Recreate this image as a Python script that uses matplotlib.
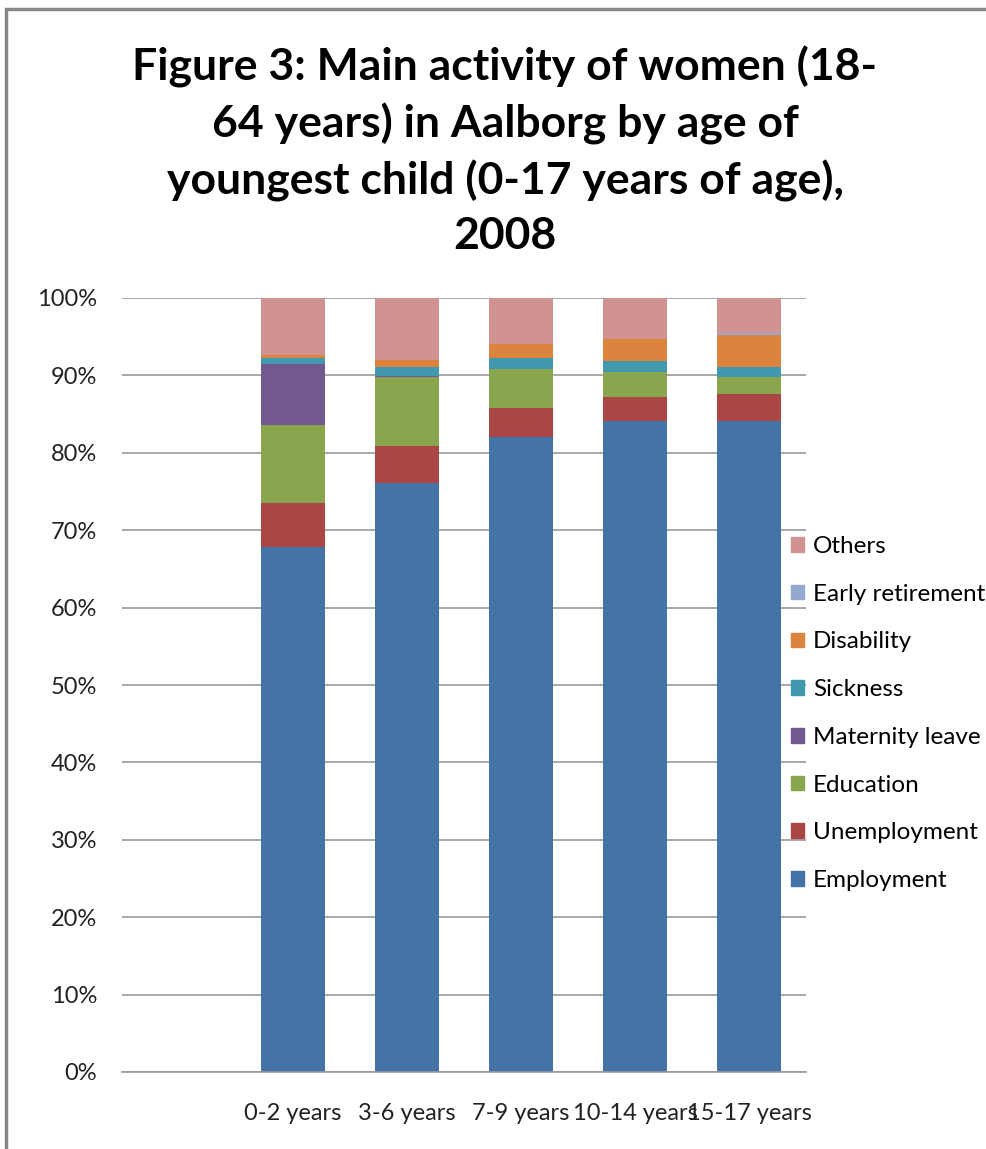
import matplotlib
matplotlib.use("Agg")
import matplotlib.pyplot as plt
from matplotlib.patches import Rectangle, Patch
from matplotlib.ticker import FuncFormatter, MultipleLocator

categories = ["", "0-2 years", "3-6 years", "7-9 years", "10-14 years", "15-17 years"]
series_names = ["Employment", "Unemployment", "Education", "Maternity leave",
                "Sickness", "Disability", "Early retirement", "Others"]
employment      = [0, 67.8, 76.05, 82.0, 84.15, 84.15]
unemployment    = [0, 5.75, 4.85, 3.8, 3.05, 3.45]
education       = [0, 10.05, 8.85, 5.0, 3.25, 2.2]
maternity_leave = [0, 7.9, 0.2, 0.0, 0.0, 0.0]
sickness        = [0, 0.8, 1.13, 1.5, 1.45, 1.3]
disability      = [0, 0.3, 0.85, 1.8, 2.85, 4.15]
early_retire    = [0, 0.0, 0.0, 0.0, 0.0, 0.2]
others          = [0, 7.4, 8.07, 5.9, 5.25, 4.6]
values = [employment, unemployment, education, maternity_leave,
          sickness, disability, early_retire, others]
colors = ["#4572A7", "#AA4643", "#89A54E", "#71588F",
          "#4198AF", "#DB843D", "#93A9CF", "#D19392"]

plt.rcParams['font.family'] = ['Lato', 'DejaVu Sans']

W, H = 987, 1149
fig = plt.figure(figsize=(W / 100, H / 100), dpi=100)
fig.patches.append(Rectangle((6 / W, -0.1), 1.2, 1 - 9 / H + 0.1, transform=fig.transFigure,
                             fill=False, edgecolor="#888888", linewidth=2.5))

ax = fig.add_axes([122 / W, (H - 1072) / H, (806 - 122) / W, (1072 - 298) / H])
x = list(range(len(categories)))
bottom = [0.0] * len(categories)
handles = []
for name, vals, c in zip(series_names, values, colors):
    ax.bar(x, vals, width=0.57, bottom=bottom, color=c, label=name, linewidth=0)
    bottom = [b + v for b, v in zip(bottom, vals)]
    handles.append(Patch(facecolor=c, edgecolor=c, label=name))

ax.set_xlim(-0.5, len(categories) - 0.5)
ax.set_ylim(0, 100)
ax.yaxis.set_major_locator(MultipleLocator(10))
ax.yaxis.set_major_formatter(FuncFormatter(lambda v, p: f"{int(round(v))}%"))
ax.set_xticks(x)
ax.set_xticklabels(categories)
ax.tick_params(axis='both', length=0, labelsize=17, colors="#222222")
ax.tick_params(axis='y', pad=18)
ax.tick_params(axis='x', pad=22)
ax.grid(axis='y', color="#999999", linewidth=1.2)
ax.set_axisbelow(True)
for s in ["top", "right", "left"]:
    ax.spines[s].set_visible(False)
ax.spines["bottom"].set_color("#999999")
ax.spines["bottom"].set_linewidth(1.2)

fig.legend(handles=handles[::-1], loc="upper left", bbox_to_anchor=(791 / W, (H - 536) / H),
           frameon=False, fontsize=17.5, handlelength=0.55, handleheight=0.55,
           handletextpad=0.35, labelspacing=1.1, borderaxespad=0, borderpad=0)

fig.text(505 / W, (H - 46) / H,
         "Figure 3: Main activity of women (18-\n64 years) in Aalborg by age of\n"
         "youngest child (0-17 years of age),\n2008",
         ha="center", va="top", fontsize=32, fontweight="bold", linespacing=1.43,
         color="#000000")

fig.savefig("out.png", dpi=100)
